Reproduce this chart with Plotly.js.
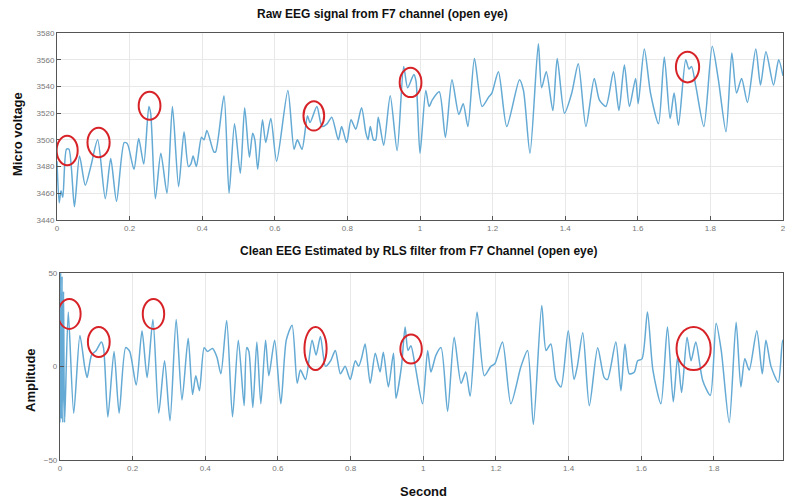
<!DOCTYPE html>
<html>
<head>
<meta charset="utf-8">
<script src="https://cdn.plot.ly/plotly-3.0.1.min.js"></script>
<style>html,body{margin:0;padding:0;background:#fff;}#chart{width:786px;height:500px;}</style>
</head>
<body>
<div id="chart"></div>
<script>
// Raw EEG (top) — time in seconds, micro voltage
const rawTime = [0.000,0.006,0.011,0.016,0.026,0.033,0.048,0.062,0.078,0.093,0.112,0.133,0.148,0.164,0.185,0.194,0.212,0.225,0.239,0.253,0.258,0.271,0.286,0.303,0.318,0.335,0.350,0.362,0.369,0.375,0.384,0.398,0.405,0.413,0.432,0.437,0.460,0.474,0.489,0.505,0.517,0.530,0.539,0.545,0.553,0.566,0.575,0.589,0.605,0.636,0.653,0.662,0.675,0.690,0.697,0.716,0.730,0.744,0.757,0.775,0.784,0.798,0.810,0.823,0.839,0.851,0.857,0.863,0.872,0.878,0.885,0.900,0.918,0.937,0.955,0.966,0.983,0.989,1.000,1.016,1.025,1.034,1.053,1.070,1.088,1.107,1.119,1.132,1.150,1.171,1.189,1.198,1.216,1.239,1.274,1.285,1.303,1.326,1.335,1.348,1.366,1.378,1.398,1.418,1.436,1.457,1.480,1.494,1.512,1.533,1.548,1.563,1.577,1.594,1.601,1.618,1.635,1.657,1.673,1.689,1.700,1.712,1.732,1.741,1.748,1.760,1.782,1.805,1.822,1.843,1.859,1.872,1.886,1.902,1.925,1.938,1.953,1.974,1.988,2.000];
const rawValue = [3484,3453,3462,3457,3493,3493,3450,3488,3466,3480,3500,3456,3486,3454,3498,3497,3478,3501,3482,3525,3520,3456,3490,3460,3525,3465,3506,3480,3482,3488,3480,3502,3500,3507,3491,3491,3533,3460,3512,3475,3524,3487,3505,3500,3478,3515,3498,3516,3484,3537,3493,3500,3493,3518,3513,3525,3510,3512,3517,3500,3510,3498,3515,3508,3524,3505,3500,3510,3500,3500,3517,3496,3533,3492,3555,3539,3549,3544,3490,3537,3525,3530,3536,3502,3545,3519,3527,3510,3561,3525,3532,3535,3551,3510,3545,3537,3490,3572,3539,3551,3522,3561,3520,3535,3557,3510,3546,3530,3525,3551,3522,3556,3525,3546,3527,3568,3535,3512,3562,3516,3535,3511,3560,3553,3555,3540,3510,3570,3545,3506,3565,3535,3546,3528,3568,3541,3566,3541,3560,3548];

// Clean EEG (bottom) — time in seconds, amplitude
const cleanTime = [0.000,0.002,0.004,0.006,0.008,0.010,0.013,0.023,0.038,0.055,0.068,0.075,0.087,0.100,0.114,0.120,0.132,0.149,0.163,0.181,0.192,0.210,0.226,0.240,0.256,0.272,0.288,0.303,0.320,0.336,0.353,0.365,0.374,0.384,0.397,0.406,0.420,0.432,0.443,0.459,0.475,0.491,0.507,0.514,0.520,0.531,0.542,0.553,0.566,0.575,0.591,0.608,0.623,0.639,0.653,0.662,0.676,0.694,0.705,0.717,0.731,0.745,0.758,0.772,0.785,0.799,0.813,0.822,0.831,0.840,0.854,0.868,0.881,0.890,0.904,0.918,0.925,0.940,0.950,0.958,0.966,0.978,0.998,1.012,1.021,1.035,1.049,1.067,1.085,1.104,1.117,1.129,1.148,1.168,1.186,1.197,1.218,1.241,1.269,1.287,1.303,1.326,1.338,1.351,1.365,1.379,1.399,1.415,1.424,1.439,1.457,1.480,1.498,1.507,1.530,1.544,1.555,1.567,1.581,1.590,1.602,1.617,1.632,1.654,1.672,1.688,1.700,1.711,1.726,1.737,1.750,1.769,1.790,1.806,1.820,1.842,1.861,1.874,1.885,1.897,1.918,1.933,1.943,1.957,1.977,1.989,2.000];
const cleanValue = [-30,50,-28,48,-30,40,-30,29,-25,16.5,0,-6,6,8.5,13,10,-27,8,-25,10,8,-10,19,-6,25,-25,3,-29,25,-18,15,-15,-5,-13,10,8,9.5,5,-4,24.5,-27,14,-21,10,8,-22,13,-20,14,-5,14,-20,14,22,-9,-2,-7,14,6,16,0,3,8.5,-4,0,-7,3,0,5,12,-9,7,-3,7.5,-11,7,-17,0,21,8.5,11,0,-20,8.5,-3,6,10,-24,15.6,-9,-3,-16,29,-5,0,1.4,13,-20,0,8.5,-31,32.5,8.5,12,-7,-11,19,-7,0,18,-21,10,-6,-7,13,-13,12,-4,-3,3,4,29,-2,-20,21,-19,5,-14,15.6,3,13,-7.5,-15.5,23,8.5,-30,23.6,-11,4,-2,19,-4,14,0,-8.5,14,0];

// Highlight circles [t0, t1, v0, v1]
const rawCircles = [[-0.001,0.057,3481,3503],[0.084,0.145,3487,3509],[0.225,0.285,3515,3536],[0.679,0.736,3507,3529],[0.944,1.004,3532,3554],[1.705,1.769,3543,3566]];
const cleanCircles = [[-0.005,0.057,20,36],[0.077,0.137,5,21],[0.228,0.287,20,36],[0.673,0.734,-2,21],[0.937,0.996,1.5,17],[1.697,1.791,-2,21]];

const rawTicksY = [3440,3460,3480,3500,3520,3540,3560,3580];
const cleanTicksY = [-50,0,50];
const xTicks = [0,0.2,0.4,0.6,0.8,1,1.2,1.4,1.6,1.8,2];
const xTickText = ['0','0.2','0.4','0.6','0.8','1','1.2','1.4','1.6','1.8','2'];

const lineColor = 'rgb(100,170,212)';
const traces = [
  {x: rawTime, y: rawValue, type: 'scatter', mode: 'lines', xaxis: 'x', yaxis: 'y',
   line: {color: lineColor, width: 1.5, shape: 'spline', smoothing: 0.7}, hoverinfo: 'skip'},
  {x: cleanTime, y: cleanValue, type: 'scatter', mode: 'lines', xaxis: 'x2', yaxis: 'y2',
   line: {color: lineColor, width: 1.5, shape: 'spline', smoothing: 0.7}, hoverinfo: 'skip'}
];

const shapes = [];
rawCircles.forEach(c => shapes.push({type: 'circle', xref: 'x', yref: 'y', x0: c[0], x1: c[1], y0: c[2], y1: c[3], line: {color: 'rgb(215,35,40)', width: 2}}));
cleanCircles.forEach(c => shapes.push({type: 'circle', xref: 'x2', yref: 'y2', x0: c[0], x1: c[1], y0: c[2], y1: c[3], line: {color: 'rgb(215,35,40)', width: 2}}));

const axCommon = {
  showgrid: true, gridcolor: '#e8e8e8', gridwidth: 1,
  zeroline: false, showline: true, mirror: true, linecolor: '#555', linewidth: 1,
  ticks: 'inside', ticklen: 4, tickcolor: '#555',
  tickfont: {family: 'Liberation Sans, Arial, sans-serif', size: 8, color: '#777'}
};

const bold = 'Liberation Sans, Arial, sans-serif';
const PW = 726;
const layout = {
  width: 786, height: 500,
  margin: {l: 57, r: 3, t: 33, b: 40},
  paper_bgcolor: '#fff', plot_bgcolor: '#fff',
  showlegend: false,
  xaxis: Object.assign({}, axCommon, {domain: [0, 1], range: [0, 2], tickvals: xTicks, ticktext: xTickText, anchor: 'y'}),
  yaxis: Object.assign({}, axCommon, {domain: [0.562, 1], range: [3440, 3580], tickvals: rawTicksY, anchor: 'x'}),
  xaxis2: Object.assign({}, axCommon, {domain: [0.004, 1], range: [0, 1.99], tickvals: xTicks, ticktext: xTickText, anchor: 'y2'}),
  yaxis2: Object.assign({}, axCommon, {domain: [0, 0.4386], range: [-50, 50], tickvals: cleanTicksY, anchor: 'x2'}),
  shapes: shapes,
  annotations: [
    {text: '<b>Raw EEG signal from F7 channel (open eye)</b>', xref: 'paper', yref: 'paper', x: (382-57)/PW, y: (460-14)/427, xanchor: 'center', yanchor: 'middle', showarrow: false, font: {family: bold, size: 12, color: '#111'}},
    {text: '<b>Clean EEG Estimated by RLS filter from F7 Channel (open eye)</b>', xref: 'paper', yref: 'paper', x: (418-57)/PW, y: (460-251)/427, xanchor: 'center', yanchor: 'middle', showarrow: false, font: {family: bold, size: 12, color: '#111'}},
    {text: '<b>Micro voltage</b>', xref: 'paper', yref: 'paper', x: (17-57)/PW, y: (460-134)/427, xanchor: 'center', yanchor: 'middle', textangle: -90, showarrow: false, font: {family: bold, size: 13, color: '#111'}},
    {text: '<b>Amplitude</b>', xref: 'paper', yref: 'paper', x: (30-57)/PW, y: (460-380)/427, xanchor: 'center', yanchor: 'middle', textangle: -90, showarrow: false, font: {family: bold, size: 13, color: '#111'}},
    {text: '<b>Second</b>', xref: 'paper', yref: 'paper', x: (424-57)/PW, y: (460-491)/427, xanchor: 'center', yanchor: 'middle', showarrow: false, font: {family: bold, size: 13, color: '#111'}}
  ]
};

Plotly.newPlot('chart', traces, layout, {staticPlot: true, displayModeBar: false});
</script>
</body>
</html>
